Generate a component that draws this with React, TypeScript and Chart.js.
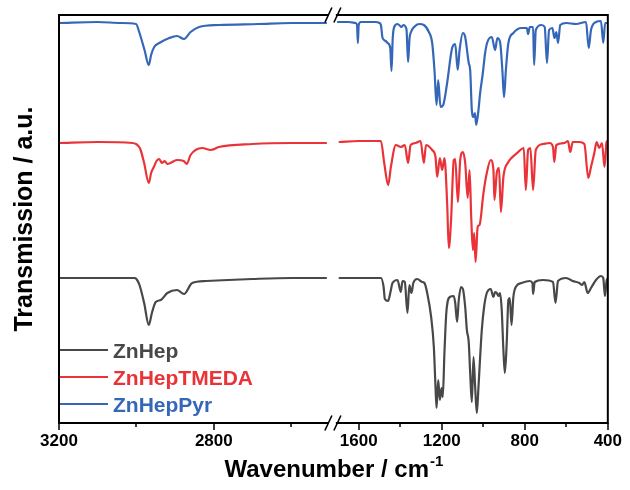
import { useEffect, useRef } from "react";
import { Chart, registerables } from "chart.js";

Chart.register(...registerables);

// ---- data: [wavenumber (cm-1), transmission (a.u., offset stacked)] ----
const ZnHep: [number, number][] = [
  [3200,145],[3100,145],[3005,145],[3000,144],[2992,138],[2980,120],[2968,98],[2960,110],[2950,121],[2937,123],[2920,130],[2895,133],[2877,129],[2856,140],[2820,142],[2700,144],[2600,145],[2510,145],
  [1692,145],[1600,145],[1493,145],[1480,136],[1474,124],[1458,122],[1448,130],[1437,140],[1413,143],[1397,131],[1389,142],[1378,141],[1365,110],[1356,138],[1346,130],[1337,140],[1318,144],[1294,141],[1283,140],[1270,130],[1251,106],[1238,76],[1230,36],[1225,15],[1217,43],[1209,23],[1201,35],[1195,26],[1187,70],[1178,110],[1161,126],[1142,127],[1135,120],[1126,101],[1118,123],[1107,136],[1098,134],[1087,116],[1079,93],[1070,81],[1063,50],[1055,21],[1047,66],[1039,36],[1031,10],[1023,36],[1015,66],[1007,93],[996,116],[983,130],[964,134],[951,126],[943,131],[935,130],[927,127],[919,130],[911,113],[903,73],[896,50],[887,80],[879,123],[872,125],[864,98],[855,126],[840,137],[816,140],[776,142],[763,140],[760,129],[752,141],[712,143],[664,141],[652,120],[640,142],[601,145],[569,142],[537,140],[524,138],[513,141],[497,130],[481,135],[457,143],[433,147],[422,145],[414,127],[406,142],[400,145],
];

const ZnHepTMEDA: [number, number][] = [
  [3200,280],[3100,281],[3010,280],[3001,279],[2995,277],[2990,274],[2980,260],[2968,240],[2962,250],[2955,256],[2948,262],[2941,264],[2934,260],[2927,262],[2920,259],[2895,263],[2878,262],[2870,259],[2860,268],[2830,275],[2808,273],[2787,276],[2700,279],[2600,280],[2510,280],
  [1692,281],[1600,282],[1493,282],[1477,260],[1458,238],[1445,256],[1421,278],[1397,276],[1378,278],[1362,260],[1350,278],[1326,280],[1302,282],[1286,260],[1276,278],[1246,273],[1230,266],[1222,246],[1209,265],[1198,253],[1187,265],[1174,220],[1166,175],[1155,203],[1142,263],[1135,264],[1122,221],[1111,263],[1098,271],[1087,260],[1075,225],[1066,253],[1058,206],[1050,173],[1044,190],[1037,161],[1027,196],[1018,198],[999,230],[983,250],[964,263],[951,253],[946,223],[935,250],[924,255],[915,211],[903,246],[879,261],[864,265],[832,271],[805,275],[795,233],[784,273],[773,275],[760,233],[747,273],[712,279],[680,280],[664,276],[658,261],[648,278],[609,280],[592,282],[581,271],[569,281],[537,281],[513,279],[494,245],[481,256],[465,270],[454,281],[441,275],[428,280],[416,256],[406,281],[400,282],
];

const ZnHepPyr: [number, number][] = [
  [3200,400],[3100,401],[3040,400],[3001,399],[2992,390],[2979,373],[2968,358],[2962,368],[2954,376],[2941,380],[2915,385],[2895,387],[2877,384],[2860,391],[2838,396],[2787,398],[2685,399],[2600,400],[2510,400],
  [1700,401],[1650,401],[1615,400],[1608,398],[1604,380],[1600,398],[1590,401],[1520,401],[1500,400],[1493,398],[1485,385],[1470,382],[1461,380],[1448,375],[1442,352],[1436,385],[1429,396],[1413,399],[1400,397],[1394,396],[1385,398],[1370,394],[1362,361],[1355,385],[1350,390],[1333,396],[1309,399],[1286,398],[1262,391],[1246,380],[1235,353],[1225,318],[1217,343],[1206,316],[1193,318],[1174,340],[1150,375],[1135,379],[1123,353],[1114,373],[1098,390],[1087,386],[1070,360],[1063,353],[1055,313],[1047,306],[1040,310],[1034,298],[1023,313],[1015,330],[1002,350],[991,370],[980,381],[959,386],[943,373],[932,385],[919,381],[908,353],[900,326],[891,353],[879,380],[855,390],[816,395],[790,395],[784,389],[776,396],[760,396],[755,358],[747,393],[720,398],[704,396],[693,360],[683,393],[667,395],[657,385],[648,391],[640,380],[629,398],[600,400],[553,399],[505,401],[492,375],[481,393],[457,401],[433,402],[422,380],[413,400],[400,400],
];

const SERIES_NAMES = ["ZnHep", "ZnHepTMEDA", "ZnHepPyr"];
const SERIES_COLORS = ["#484848", "#ea3338", "#3567b9"];

const MAJOR_TICKS = [3200, 2800, 1600, 1200, 800, 400];
const MINOR_TICKS = [3000, 2600, 1400, 1000, 600];

// ---- broken axis: two wavenumber segments on one linear axis ----
const HIGH_START = 3200;
const HIGH_SCALE = 0.39; // axis units per cm-1 (high range)
const LOW_REF = 1600;
const LOW_OFFSET = 302;
const LOW_SCALE = 0.2092; // axis units per cm-1 (low range)
const AXIS_MAX = LOW_OFFSET + (LOW_REF - 400) * LOW_SCALE;
const BREAK_AT = 276;

function toAxis(w: number): number {
  return w >= 2000 ? (HIGH_START - w) * HIGH_SCALE : LOW_OFFSET + (LOW_REF - w) * LOW_SCALE;
}

function buildPoints(series: [number, number][]) {
  const pts: { x: number; y: number | null }[] = [];
  let prev: number | null = null;
  for (const [w, v] of series) {
    if (prev !== null && prev >= 2000 && w < 2000) pts.push({ x: BREAK_AT, y: null });
    pts.push({ x: toAxis(w), y: v });
    prev = w;
  }
  return pts;
}

const FONT = "'Liberation Sans', Arial, sans-serif";

const framePlugin = {
  id: "frame",
  afterDraw(chart: any) {
    const { ctx, chartArea } = chart;
    const xs = chart.scales.x;
    const { left, right, top, bottom } = chartArea;
    const bx = xs.getPixelForValue(BREAK_AT);
    ctx.save();
    ctx.strokeStyle = "#000";
    ctx.lineWidth = 2;
    ctx.lineCap = "square";
    ctx.beginPath();
    ctx.moveTo(left, top); ctx.lineTo(left, bottom);
    ctx.moveTo(right, top); ctx.lineTo(right, bottom);
    for (const y of [top, bottom]) {
      ctx.moveTo(left, y); ctx.lineTo(bx - 5, y);
      ctx.moveTo(bx + 4, y); ctx.lineTo(right, y);
    }
    ctx.stroke();
    ctx.lineCap = "butt";
    ctx.lineWidth = 1.6;
    ctx.beginPath();
    for (const y of [top, bottom]) {
      for (const c of [bx - 4.5, bx + 4.5]) {
        ctx.moveTo(c - 3.5, y + 7.5);
        ctx.lineTo(c + 3.5, y - 7.5);
      }
    }
    ctx.stroke();
    // ticks
    ctx.lineWidth = 1.5;
    ctx.beginPath();
    for (const w of MAJOR_TICKS) {
      const px = Math.round(xs.getPixelForValue(toAxis(w)));
      ctx.moveTo(px, bottom); ctx.lineTo(px, bottom + 7);
    }
    for (const w of MINOR_TICKS) {
      const px = Math.round(xs.getPixelForValue(toAxis(w)));
      ctx.moveTo(px, bottom); ctx.lineTo(px, bottom + 4);
    }
    ctx.stroke();

    // legend
    const rows = [350, 377, 404];
    ctx.font = `bold 21px ${FONT}`;
    ctx.textAlign = "left";
    ctx.textBaseline = "alphabetic";
    SERIES_NAMES.forEach((name, i) => {
      ctx.strokeStyle = SERIES_COLORS[i];
      ctx.lineWidth = 2;
      ctx.beginPath();
      ctx.moveTo(left + 1, rows[i]);
      ctx.lineTo(left + 49, rows[i]);
      ctx.stroke();
      ctx.fillStyle = SERIES_COLORS[i];
      ctx.fillText(name, left + 54, rows[i] + 7.5);
    });

    // axis titles
    ctx.fillStyle = "#000";
    ctx.font = `bold 24px ${FONT}`;
    const main = "Wavenumber / cm";
    const mw = ctx.measureText(main).width;
    ctx.font = `bold 15px ${FONT}`;
    const sup = "-1";
    const sw = ctx.measureText(sup).width;
    const cx = (left + right) / 2;
    const startX = cx - (mw + sw) / 2;
    ctx.font = `bold 24px ${FONT}`;
    ctx.fillText(main, startX, 477);
    ctx.font = `bold 15px ${FONT}`;
    ctx.fillText(sup, startX + mw + 1, 466);

    ctx.save();
    ctx.translate(32, (top + bottom) / 2);
    ctx.rotate(-Math.PI / 2);
    ctx.font = `bold 25px ${FONT}`;
    ctx.textAlign = "center";
    ctx.fillText("Transmission / a.u.", 0, 0);
    ctx.restore();
    ctx.restore();
  },
};

export default function App() {
  const ref = useRef<HTMLCanvasElement | null>(null);
  useEffect(() => {
    if (!ref.current) return;
    const all = [ZnHep, ZnHepTMEDA, ZnHepPyr];
    const chart = new Chart(ref.current, {
      type: "line",
      data: {
        datasets: all.map((s, i) => ({
          label: SERIES_NAMES[i],
          data: buildPoints(s),
          borderColor: SERIES_COLORS[i],
          backgroundColor: SERIES_COLORS[i],
          borderWidth: 2.2,
          pointRadius: 0,
          cubicInterpolationMode: "monotone",
          spanGaps: false,
          borderJoinStyle: "round",
          borderCapStyle: "round",
        })),
      },
      options: {
        responsive: false,
        animation: false,
        layout: { padding: { top: 15, right: 18, left: 0, bottom: 0 } },
        plugins: { legend: { display: false }, tooltip: { enabled: false } },
        scales: {
          x: {
            type: "linear",
            min: 0,
            max: AXIS_MAX,
            afterBuildTicks: (s: any) => {
              s.ticks = MAJOR_TICKS.map((w) => ({ value: toAxis(w) }));
            },
            afterFit: (s: any) => { s.height = 67; },
            ticks: {
              autoSkip: false,
              maxRotation: 0,
              padding: 8,
              color: "#000",
              font: { family: FONT, weight: "bold", size: 17 },
              callback: (_v: any, i: number) => String(MAJOR_TICKS[i]),
            },
            grid: { display: false, drawTicks: false },
            border: { display: false },
          },
          y: {
            type: "linear",
            min: 0,
            max: 408,
            ticks: { display: false },
            grid: { display: false, drawTicks: false },
            border: { display: false },
            afterFit: (s: any) => { s.width = 59; },
          },
        },
      },
      plugins: [framePlugin],
    } as any);
    return () => chart.destroy();
  }, []);
  return (
    <div style={{ position: "fixed", left: 0, top: 0, width: 630, height: 490, background: "#fff" }}>
      <canvas ref={ref} width={630} height={490} style={{ width: 630, height: 490 }} />
    </div>
  );
}
